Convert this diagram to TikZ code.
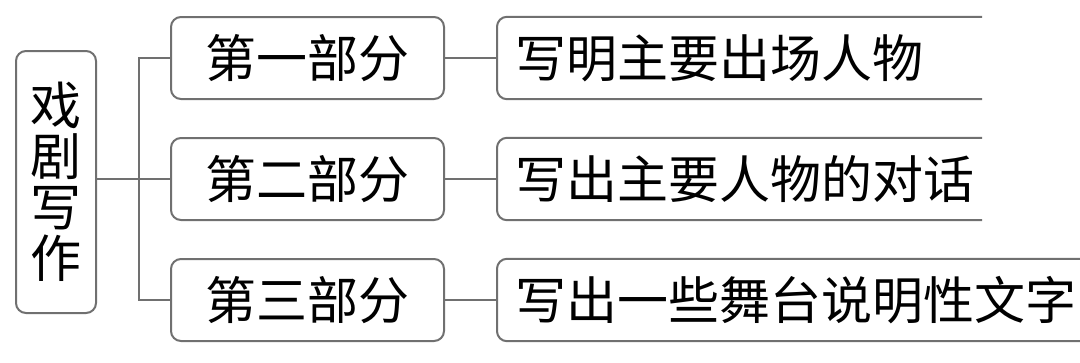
\documentclass[tikz,border=0pt]{standalone}
\usepackage{fontspec}
\newfontfamily\cjk{Noto Sans CJK SC}
\definecolor{linegray}{RGB}{112,112,112}
\begin{document}
\begin{tikzpicture}[x=1pt,y=-1pt,
  line/.style={draw=linegray, line width=2pt},
  txt/.style={font=\cjk\fontsize{51}{51}\selectfont, text=black},
  box/.style={line, txt, rounded corners=10pt, fill=white, inner sep=0pt, minimum height=82pt},
  rtext/.style={txt, anchor=west, inner xsep=18pt, inner ysep=0pt, minimum height=82pt}]
\fill[white] (0,0) rectangle (1080,362);
\useasboundingbox (0,0) rectangle (1080,362);
% root
\node[box, minimum width=80pt, minimum height=262pt, align=center] (L) at (56,182) {戏\\剧\\写\\作};
% middle
\node[box, minimum width=273pt] (m1) at (307.5,58) {第一部分};
\node[box, minimum width=273pt] (m2) at (307.5,179) {第二部分};
\node[box, minimum width=273pt] (m3) at (307.5,300) {第三部分};
% right texts
\node[rtext] (r1) at (497,58) {写明主要出场人物};
\node[rtext] (r2) at (497,179) {写出主要人物的对话};
\node[rtext] (r3) at (497,300) {写出一些舞台说明性文字};
\coordinate (E1) at (982,0);
\coordinate (E3) at (1081,0);
% open boxes
\draw[line, rounded corners=10pt] (r1.north west -| E1) -- (r1.north west) -- (r1.south west) -- (r1.south west -| E1);
\draw[line, rounded corners=10pt] (r2.north west -| E1) -- (r2.north west) -- (r2.south west) -- (r2.south west -| E1);
\draw[line, rounded corners=10pt] (r3.north west -| E3) -- (r3.north west) -- (r3.south west) -- (r3.south west -| E3);
% connectors
\coordinate (J) at (138.5,179);
\draw[line] (L.east |- J) -- (m2.west);
\draw[line] (m1.west) -| (J) |- (m3.west);
\draw[line] (m1.east) -- (r1.west);
\draw[line] (m2.east) -- (r2.west);
\draw[line] (m3.east) -- (r3.west);
\end{tikzpicture}
\end{document}
